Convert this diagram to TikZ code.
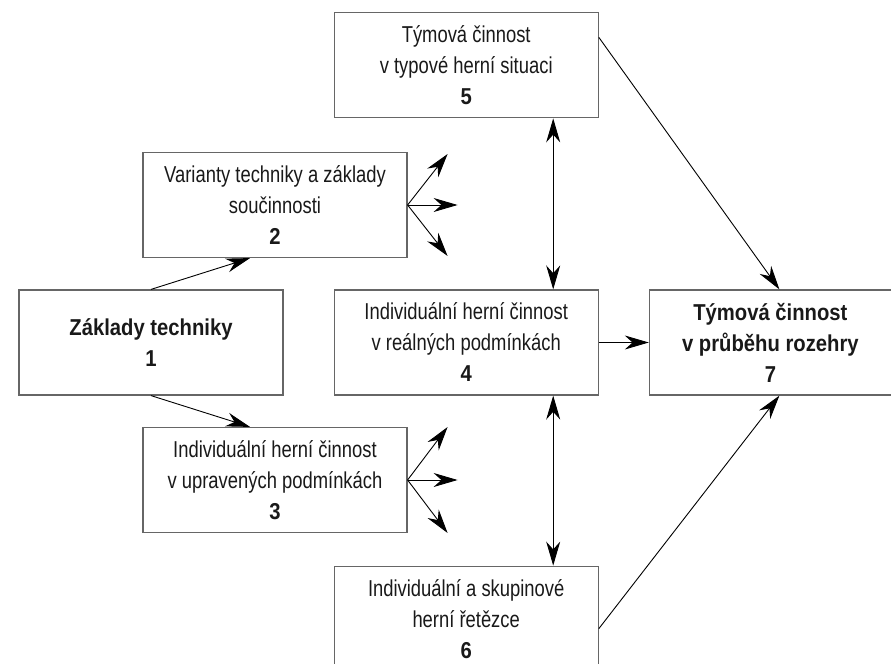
\documentclass[tikz,border=0pt]{standalone}
\usepackage{fontspec}
\setmainfont{Liberation Sans}[FakeStretch=0.8, BoldFeatures={FakeStretch=0.88}]
\usepackage{tikz}
\usetikzlibrary{positioning,calc,arrows.meta}

\begin{document}
\begin{tikzpicture}[x=0.5pt, y=-0.5pt,
    stepbox/.style={rectangle, draw=black!60, line width=0.6pt, minimum width=132pt, minimum height=52.5pt, align=center, inner sep=0pt, text=black!90, font=\fontsize{11.5}{15.5}\selectfont},
    link/.style={-{Stealth[length=12pt, width=7pt]}, line width=0.45pt},
    both/.style={{Stealth[length=12pt, width=7pt]}-{Stealth[length=12pt, width=7pt]}, line width=0.45pt}
]
    \clip (0,0) rectangle (891,664);

    % Basics
    \node[stepbox] (b1) at (151,342.5) {\textbf{Základy techniky}\\\textbf{1}};

    % Variants and modified conditions
    \node[stepbox] (b2) at (275,205) {Varianty techniky a základy\\součinnosti\\\textbf{2}};
    \node[stepbox] (b3) at (275,480) {Individuální herní činnost\\v upravených podmínkách\\\textbf{3}};

    % Middle column
    \node[stepbox, right=25pt of b1] (b4) {Individuální herní činnost\\v reálných podmínkách\\\textbf{4}};
    \node[stepbox, above=85.5pt of b4] (b5) {Týmová činnost\\v typové herní situaci\\\textbf{5}};
    \node[stepbox, below=85pt of b4] (b6) {Individuální a skupinové\\herní řetězce\\\textbf{6}};

    % Game
    \node[stepbox, minimum width=121pt, right=25pt of b4] (b7) {\textbf{Týmová činnost}\\\textbf{v průběhu rozehry}\\\textbf{7}};

    % Fan ends
    \coordinate (f2a) at ($(b2.east)+(40,-51)$);
    \coordinate (f2b) at ($(b2.east)+(50,0)$);
    \coordinate (f2c) at ($(b2.east)+(40,51)$);
    \coordinate (f3a) at ($(b3.east)+(40,-53)$);
    \coordinate (f3b) at ($(b3.east)+(50,0)$);
    \coordinate (f3c) at ($(b3.east)+(40,53)$);

    % Arrows
    \draw[link] (b1.north) -- ($(b2.south)+(-25,0)$);
    \draw[link] (b1.south) -- ($(b3.north)+(-25,0)$);
    \foreach \f in {f2a,f2b,f2c} \draw[link] (b2.east) -- (\f);
    \foreach \f in {f3a,f3b,f3c} \draw[link] (b3.east) -- (\f);
    \draw[both] ($(b5.south)+(87,0)$) -- ($(b4.north)+(87,0)$);
    \draw[both] ($(b4.south)+(87,0)$) -- ($(b6.north)+(87,0)$);
    \draw[link] (b4.east) -- (b7.west);
    \draw[link] ($(b5.east)+(0,-28)$) -- ($(b7.north)+(9,0)$);
    \draw[link] ($(b6.east)+(0,10)$) -- ($(b7.south)+(9,0)$);

\end{tikzpicture}
\end{document}
